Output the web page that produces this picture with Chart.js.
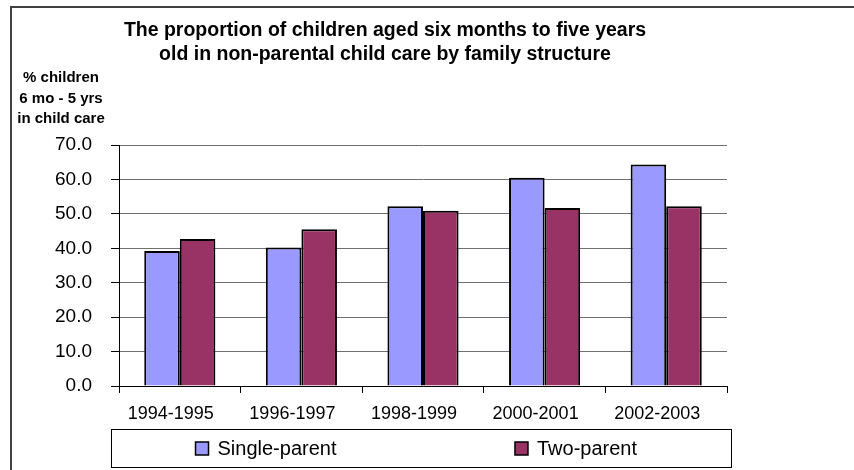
<!DOCTYPE html>
<html>
<head>
<meta charset="UTF-8">
<title>Children in non-parental child care</title>
<script src="https://cdn.jsdelivr.net/npm/chart.js"></script>
<style>
  html, body { margin: 0; padding: 0; background: #fff; }
  #wrap { position: relative; width: 854px; height: 470px; }
</style>
</head>
<body>
<div id="wrap"><canvas id="care"></canvas></div>

<script>
const periods = ['1994-1995', '1996-1997', '1998-1999', '2000-2001', '2002-2003'];
const singleParent = [39.2, 40.2, 52.2, 60.5, 64.3];
const twoParent = [42.7, 45.5, 50.9, 51.7, 52.2];
const yTicks = [0, 10, 20, 30, 40, 50, 60, 70];

const titleLines = [
  'The proportion of children aged six months to five years',
  'old in non-parental child care by family structure'
];
const yTitleLines = ['% children', '6 mo - 5 yrs', 'in child care'];

const FONT = '"Liberation Sans", Arial, sans-serif';

// frame, titles and the boxed legend are painted by hand
const decor = {
  id: 'decor',
  beforeDraw(chart) {
    const ctx = chart.ctx;
    ctx.save();
    ctx.fillStyle = '#fff';
    ctx.fillRect(0, 0, chart.width, chart.height);
    ctx.strokeStyle = '#404040';
    ctx.lineWidth = 2;
    ctx.beginPath();
    ctx.moveTo(11, chart.height);
    ctx.lineTo(11, 7);
    ctx.lineTo(chart.width, 7);
    ctx.stroke();
    ctx.restore();
  },
  afterDraw(chart) {
    const ctx = chart.ctx;
    ctx.save();
    ctx.fillStyle = '#000';
    ctx.textAlign = 'center';
    ctx.textBaseline = 'middle';

    ctx.font = 'bold 19.5px ' + FONT;
    titleLines.forEach((t, i) => ctx.fillText(t, 385, 31 + i * 24));

    ctx.font = 'bold 15px ' + FONT;
    yTitleLines.forEach((t, i) => ctx.fillText(t, 61, 78 + i * 20.5));

    // legend box
    const lx = 111, ly = 429, lw = 620, lh = 38;
    ctx.strokeStyle = '#000';
    ctx.lineWidth = 1;
    ctx.strokeRect(lx + 0.5, ly + 0.5, lw, lh);

    ctx.font = '20px ' + FONT;
    ctx.textAlign = 'left';
    const half = lw / chart.data.datasets.length;
    chart.data.datasets.forEach((ds, i) => {
      const tw = ctx.measureText(ds.label).width;
      const itemW = 13 + 9 + tw;
      const x0 = lx + i * half + (half - itemW) / 2;
      const cy = ly + lh / 2 + 0.5;
      ctx.fillStyle = ds.backgroundColor;
      ctx.fillRect(x0, cy - 6.5, 13, 13);
      ctx.lineWidth = 1.5;
      ctx.strokeRect(x0, cy - 6.5, 13, 13);
      ctx.fillStyle = '#000';
      ctx.fillText(ds.label, x0 + 22, cy + 1);
    });
    ctx.restore();
  }
};

new Chart(document.getElementById('care'), {
  type: 'bar',
  data: {
    labels: periods,
    datasets: [
      {
        label: 'Single-parent',
        data: singleParent,
        backgroundColor: '#9999ff',
        borderColor: '#000',
        borderWidth: 2
      },
      {
        label: 'Two-parent',
        data: twoParent,
        backgroundColor: '#993366',
        borderColor: '#000',
        borderWidth: 2
      }
    ]
  },
  options: {
    responsive: true,
    maintainAspectRatio: false,
    animation: false,
    layout: { padding: { left: 0, right: 127, top: 145, bottom: 0 } },
    datasets: {
      bar: { categoryPercentage: 0.585, barPercentage: 1 }
    },
    plugins: {
      legend: { display: false },
      title: { display: false },
      tooltip: { enabled: false }
    },
    scales: {
      x: {
        afterFit: s => { s.height = 84; },
        grid: {
          drawOnChartArea: false,
          drawTicks: true,
          tickLength: 7,
          color: '#000',
          offset: true
        },
        border: { color: '#000', width: 1 },
        ticks: {
          color: '#000',
          font: { family: FONT, size: 18 },
          padding: 10,
          labelOffset: -9,
          maxRotation: 0
        }
      },
      y: {
        min: 0,
        max: 70,
        afterFit: s => { s.width = 119; },
        afterBuildTicks: s => { s.ticks = yTicks.map(v => ({ value: v })); },
        grid: {
          color: '#707070',
          lineWidth: 1,
          tickLength: 8,
          tickColor: '#000'
        },
        border: { color: '#000', width: 1 },
        ticks: {
          color: '#000',
          font: { family: FONT, size: 19 },
          padding: 19,
          callback: v => Number(v).toFixed(1)
        }
      }
    }
  },
  plugins: [decor]
});
</script>
</body>
</html>
